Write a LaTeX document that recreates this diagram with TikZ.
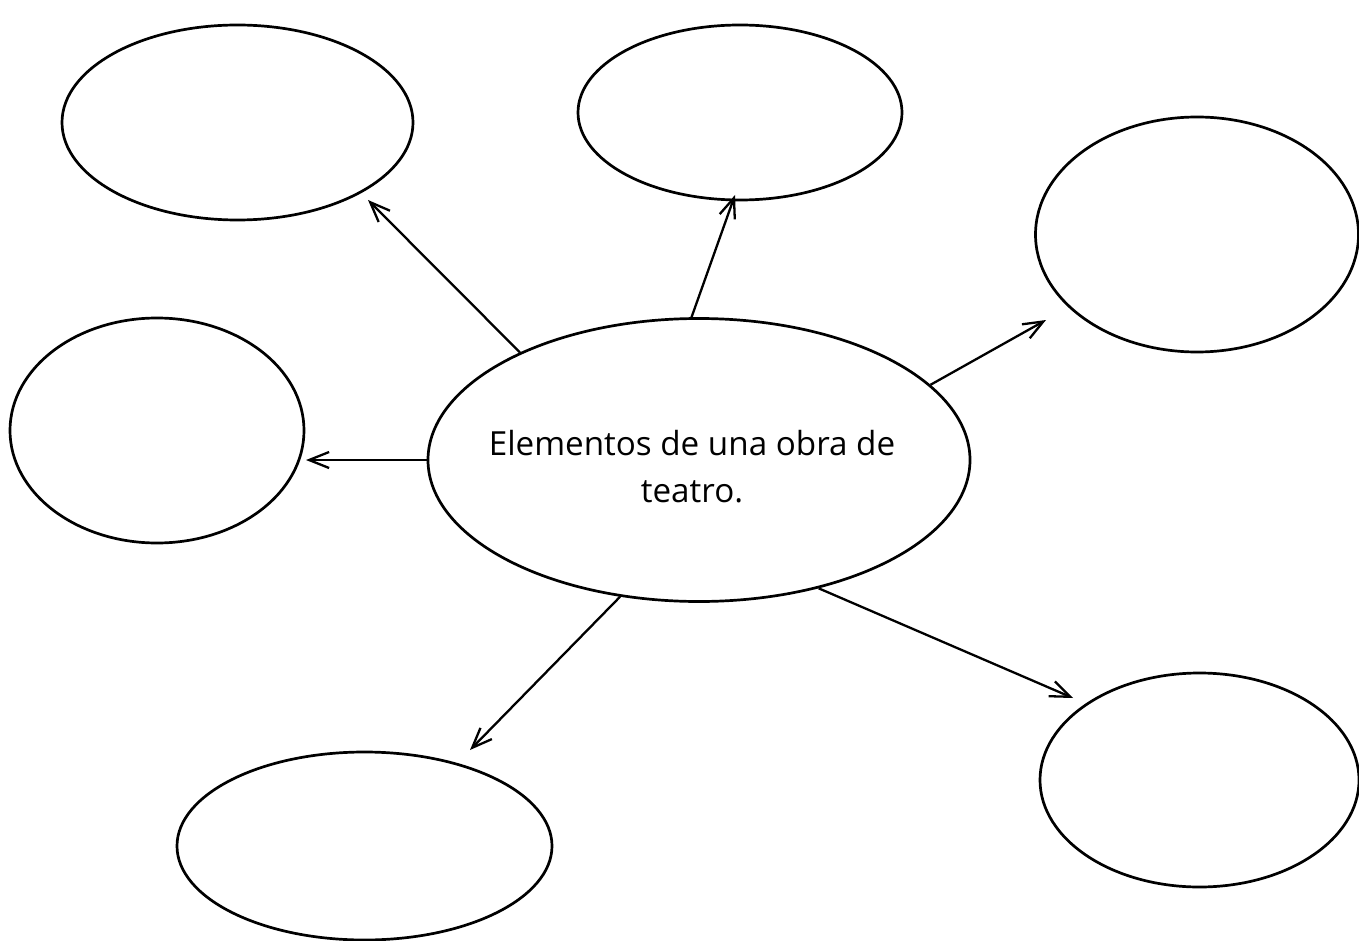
\documentclass[tikz,border=0pt]{standalone}
\usepackage{fontspec}
\setmainfont{Open Sans}
\usetikzlibrary{shapes.geometric,arrows.meta}
\begin{document}
\begin{tikzpicture}[x=0.5pt,y=-0.5pt,
  oval/.style={draw, ellipse, line width=1.35pt, inner sep=0pt},
  arr/.style={line width=1.15pt, -{Straight Barb[length=10pt,width=8pt,line width=1.15pt]}}]
\useasboundingbox (0,0) rectangle (1359,941);
\node[oval, minimum width=351pt*0.5, minimum height=195pt*0.5] (tl) at (237.5,122.5) {};
\node[oval, minimum width=324pt*0.5, minimum height=175pt*0.5] (tc) at (740,112.5) {};
\node[oval, minimum width=323pt*0.5, minimum height=235pt*0.5] (tr) at (1197,234.5) {};
\node[oval, minimum width=294pt*0.5, minimum height=225pt*0.5] (ml) at (157,430.5) {};
\node[oval, minimum width=542pt*0.5, minimum height=283pt*0.5] (c) at (699,460) {};
\node[align=center, font=\fontsize{16.6pt}{23.5pt}\selectfont] (ct) at (692,467)
      {Elementos de una obra de\\teatro.};
\node[oval, minimum width=375pt*0.5, minimum height=188pt*0.5] (bl) at (364.5,846) {};
\node[oval, minimum width=319pt*0.5, minimum height=214pt*0.5] (br) at (1199.5,780) {};
\coordinate (ttl) at (368,200);
\coordinate (ttc) at (735,195);
\coordinate (ttr) at (1046,320);
\coordinate (tml) at (306,460);
\coordinate (tbl) at (470,750);
\coordinate (tbr) at (1073,698);
\draw[arr] (c.149.6) -- (ttl);
\draw[arr] (c.93.7) -- (ttc);
\draw[arr] (c.18.5) -- (ttr);
\draw[arr] (c.180) -- (tml);
\draw[arr] (c.240.4) -- (tbl);
\draw[arr] (c.313.5) -- (tbr);
\end{tikzpicture}
\end{document}
